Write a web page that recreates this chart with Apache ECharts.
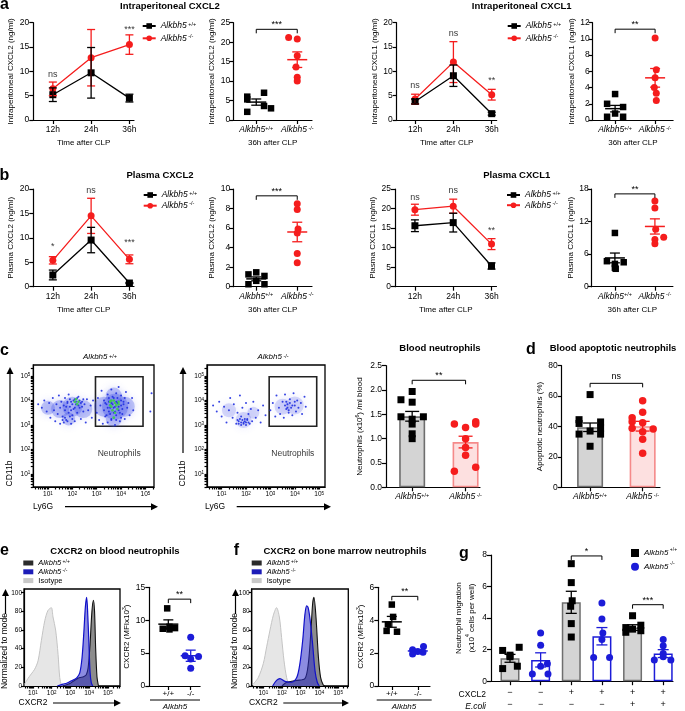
<!DOCTYPE html>
<html><head><meta charset="utf-8">
<script src="https://cdn.jsdelivr.net/npm/echarts@6/dist/echarts.min.js"></script>
<style>html,body{margin:0;padding:0;background:#fff}#c{width:685px;height:711px}</style>
</head><body><div id="c"></div>
<script>
// ================= DATA =================
const timeX = [1, 2, 3];
const timeLabels = ['12h', '24h', '36h'];
const genoX = [1, 2];
const genoLabels = ['{i|Alkbh5}{s|+/+}', '{i|Alkbh5}{s| -/-}'];
const genoShort = ['+/+', '-/-'];

// a: Intraperitoneal CXCL2
const ipC2WtMean = [5.2, 9.7, 4.5], ipC2WtSem = [1.4, 5.2, 0.8];
const ipC2KoMean = [6.4, 12.8, 15.5], ipC2KoSem = [1.4, 5.8, 2.0];
const ipC2Sig = ['ns', 'ns', '***'], ipC2SigY = [9.3, 20.3, 18.7];
const ipC2Wt36 = [7.0, 6.0, 5.3, 3.6, 3.0, 2.1], ipC2Wt36J = [0.19, -0.22, -0.22, 0.19, 0.36, -0.22];
const ipC2Ko36 = [21.2, 20.8, 16.5, 13.6, 11.0, 10.0], ipC2Ko36J = [-0.21, 0, 0, -0.03, 0, 0];
const ipC2Mean36 = [4.6, 15.5], ipC2Sem36 = [0.8, 2.0], ipC2Br = 23.3, ipC2BrLab = '***';

// a: Intraperitoneal CXCL1
const ipC1WtMean = [3.8, 9.1, 1.3], ipC1WtSem = [0.5, 2.2, 0.3];
const ipC1KoMean = [4.3, 11.9, 5.2], ipC1KoSem = [1.0, 4.2, 1.1];
const ipC1Sig = ['ns', 'ns', '**'], ipC1SigY = [7.0, 17.7, 8.2];
const ipC1Wt36 = [3.2, 2.0, 1.6, 0.8, 0.4, 0.4], ipC1Wt36J = [0, -0.2, 0.2, 0, -0.2, 0.2];
const ipC1Ko36 = [10.1, 6.2, 5.2, 4.0, 3.3, 2.4], ipC1Ko36J = [0, 0.03, 0, -0.02, 0.03, 0.03];
const ipC1Mean36 = [1.4, 5.2], ipC1Sem36 = [0.4, 1.15], ipC1Br = 11.2, ipC1BrLab = '**';

// b: Plasma CXCL2
const plC2WtMean = [2.4, 9.55, 0.75], plC2WtSem = [1.0, 2.6, 0.1];
const plC2KoMean = [5.4, 14.5, 5.6], plC2KoSem = [0.75, 3.6, 0.9];
const plC2Sig = ['*', 'ns', '***'], plC2SigY = [8.2, 19.6, 9.1];
const plC2Wt36 = [1.26, 1.47, 1.1, 0.6, 0.25, 0.25], plC2Wt36J = [-0.19, 0, 0.2, 0, -0.19, 0.2];
const plC2Ko36 = [8.5, 7.9, 5.9, 5.5, 3.4, 2.45], plC2Ko36J = [0, 0, 0.02, 0, 0, 0];
const plC2Mean36 = [0.8, 5.6], plC2Sem36 = [0.2, 1.0], plC2Br = 9.3, plC2BrLab = '***';

// b: Plasma CXCL1
const plC1WtMean = [15.6, 16.4, 5.3], plC1WtSem = [1.5, 2.4, 0.8];
const plC1KoMean = [19.7, 20.6, 10.9], plC1KoSem = [1.4, 1.8, 1.4];
const plC1Sig = ['ns', 'ns', '**'], plC1SigY = [22.8, 24.5, 14.5];
const plC1Wt36 = [9.9, 4.7, 4.5, 4.2, 3.5, 3.3], plC1Wt36J = [0, -0.2, 0.22, 0, 0, 0.02];
const plC1Ko36 = [15.8, 14.5, 10.6, 9.1, 8.7, 7.9], plC1Ko36J = [0, 0, 0.02, 0.22, 0, 0];
const plC1Mean36 = [5.3, 11.1], plC1Sem36 = [0.9, 1.4], plC1Br = 17.1, plC1BrLab = '**';

// c: flow cytometry events (log10 Ly6G, log10 CD11b)
const flowWtDots = [[0.6,3.85],[0.75,3.7],[0.85,4.0],[0.95,3.55],[1.05,3.9],[1.1,3.3],[1.2,4.1],[1.25,3.6],[1.3,3.15],[1.35,3.85],[1.4,3.45],[1.45,4.2],[1.5,3.05],[1.5,3.7],[1.55,3.95],[1.6,3.35],[1.65,3.8],[1.7,3.6],[1.7,4.1],[1.75,3.2],[1.8,3.9],[1.85,3.5],[1.85,4.25],[1.9,3.75],[1.95,3.05],[1.95,3.95],[2.0,3.4],[2.05,3.65],[2.1,4.05],[2.1,3.15],[2.15,3.85],[2.2,3.5],[2.25,4.15],[2.3,3.7],[2.35,3.25],[2.4,3.95],[2.45,3.55],[2.5,3.85],[2.55,3.1],[2.6,4.05],[2.65,3.6],[2.75,3.8],[2.8,3.3],[2.85,4.0],
  [1.8,3.95],[1.9,4.05],[2.0,3.85],[2.05,4.0],[2.15,3.95],[2.2,4.1],[2.25,3.8],[2.3,4.0],[2.35,3.9],[2.4,3.75],[1.95,3.6],[2.1,3.7],[2.45,4.05],[1.75,3.75],[1.6,3.2],[1.7,3.3],[1.8,3.15],[1.9,3.35],[2.0,3.25],[1.65,3.1],
  [3.0,3.5],[3.05,4.1],[3.1,3.2],[3.15,3.8],[3.2,4.4],[3.25,3.05],[3.3,3.6],[3.3,4.0],[3.35,3.35],[3.4,3.85],[3.45,4.25],[3.45,3.1],[3.5,3.55],[3.5,3.95],[3.55,3.7],[3.6,4.45],[3.6,3.25],[3.65,3.85],[3.7,3.5],[3.7,4.1],[3.75,3.0],[3.75,3.75],[3.8,4.3],[3.8,3.4],[3.85,3.9],[3.9,3.6],[3.9,4.55],[3.95,3.15],[4.0,3.8],[4.0,4.2],[4.05,3.45],[4.1,3.95],[4.15,3.25],[4.2,4.35],[4.25,3.7],[4.3,3.9],[4.35,3.4],[4.45,4.1],[4.5,3.6],[5.2,3.55],[5.25,4.3],
  [3.35,3.9],[3.45,3.7],[3.5,4.1],[3.55,3.45],[3.6,3.9],[3.65,4.15],[3.7,3.7],[3.75,3.55],[3.8,3.95],[3.85,4.1],[3.9,3.75],[3.95,3.5],[4.0,4.0],[4.05,3.65],[4.1,3.85],[4.15,4.1],[3.4,3.4],[3.6,3.2],[3.8,3.2],[4.0,3.3]];
const flowWtCore = [[2.1,3.95],[2.2,3.85],[2.25,3.95],[2.15,4.05],[3.55,3.8],[3.65,3.6],[3.75,3.9],[3.85,3.65],[3.7,3.3],[3.6,4.0],[3.9,3.85],[3.6,3.75],[3.8,3.8],[3.7,4.0],[3.9,3.95],[3.75,3.5],[3.55,3.95]];
const flowWtBlobs = [[1.0,3.7,14],[1.5,3.65,18],[2.0,3.75,20],[2.45,3.65,18],[1.85,3.25,13],[3.3,3.75,20],[3.75,3.75,26],[4.15,3.75,20],[3.7,4.2,16],[3.7,3.25,16]];
const flowKoDots = [[0.65,3.8],[0.8,3.55],[0.9,3.95],[1.0,3.35],[1.1,3.75],[1.2,3.1],[1.3,3.6],[1.35,4.1],[1.45,3.3],[1.5,3.85],[1.6,3.05],[1.65,3.5],[1.7,3.15],[1.75,4.2],[1.8,3.0],[1.8,3.35],[1.85,3.7],[1.9,3.1],[1.95,3.25],[2.0,3.0],[2.0,3.9],[2.05,3.2],[2.1,3.45],[2.15,3.05],[2.2,3.65],[2.25,3.15],[2.3,3.95],[2.4,3.3],[2.5,3.6],[2.6,3.1],[2.7,3.8],[2.8,3.4],
  [1.7,3.05],[1.8,3.1],[1.85,3.2],[1.9,3.05],[1.95,3.15],[2.0,3.1],[2.05,3.25],[1.75,3.25],[2.1,3.1],[1.65,3.2],
  [3.0,3.6],[3.1,3.9],[3.2,3.35],[3.25,4.2],[3.35,3.7],[3.4,3.45],[3.5,3.95],[3.55,3.3],[3.6,4.25],[3.65,3.65],[3.7,3.85],[3.75,3.5],[3.8,4.05],[3.85,3.7],[3.9,3.4],[3.95,4.3],[4.0,3.8],[4.05,3.55],[4.1,4.0],[4.15,3.7],[4.25,3.9],[4.3,3.45],[4.4,4.15],[4.45,3.75],
  [3.6,3.8],[3.7,3.7],[3.8,3.9],[3.65,3.95],[3.9,3.8],[3.75,3.6],[4.0,3.95]];
const flowKoBlobs = [[1.3,3.6,14],[1.9,3.2,16],[2.3,3.5,12],[3.5,3.75,16],[4.0,3.8,18]];
const flowGate = [[2.95, 2.95], [4.9, 4.97]];
const flowTickExp = [1, 2, 3, 4, 5];

// c: blood neutrophils (x10^6 / ml)
const neutWt = [1.97, 1.8, 1.75, 1.45, 1.45, 1.4, 1.3, 1.1, 1.0], neutWtJ = [0, -0.21, 0, -0.21, 0.21, 0, 0, 0, 0];
const neutKo = [1.35, 1.3, 1.3, 1.23, 1.0, 0.82, 0.66, 0.41, 0.33], neutKoJ = [0.19, -0.21, 0.19, 0, 0, 0, 0, 0.19, -0.21];
const neutMean = [1.46, 0.93], neutSem = [0.1, 0.12], neutBr = 2.2, neutBrLab = '**';

// d: apoptotic neutrophils (%)
const apoWt = [61, 44.5, 42, 35, 43, 39, 35, 37, 27], apoWtJ = [0, -0.21, -0.21, -0.21, 0.2, 0.2, 0.2, 0, 0];
const apoKo = [57, 49.3, 45.8, 43.2, 38.8, 42.5, 38.4, 36.6, 31.6, 22.4], apoKoJ = [0, 0, -0.2, -0.2, -0.2, 0, 0.2, 0, 0, 0];
const apoMean = [39.5, 40.2], apoSem = [2.8, 3.2], apoBr = 68.4, apoBrLab = 'ns';

// e: CXCR2 histograms, blood (log10 CXCR2, % of mode)
const histIsoE = [[0.55,2],[0.73,8],[0.91,13],[1.09,18],[1.27,27],[1.45,49],[1.63,70],[1.8,81],[1.98,84],[2.07,74],[2.21,60],[2.34,34],[2.43,9],[2.52,1],[2.6,0]];
const histKoE = [[2.3,0],[2.6,2],[2.8,3],[3.0,5],[3.2,7],[3.35,9],[3.5,14],[3.62,30],[3.72,58],[3.8,85],[3.87,95],[3.93,75],[3.99,45],[4.05,15],[4.12,3],[4.2,0]];
const histWtE = [[2.6,0],[3.0,3],[3.3,7],[3.5,9],[3.7,10],[3.85,12],[3.95,20],[4.05,45],[4.15,80],[4.23,92],[4.29,80],[4.35,40],[4.42,10],[4.5,0]];
const cxBlWt = [11.8, 9.0, 8.8, 8.7, 8.6], cxBlWtJ = [-0.05, 0.05, 0.3, -0.25, 0.05];
const cxBlKo = [7.4, 4.6, 4.5, 4.1, 2.7], cxBlKoJ = [0, -0.25, 0.35, 0, 0];
const cxBlMean = [9.4, 4.6], cxBlSem = [0.65, 0.85], cxBlBr = 13.2, cxBlBrLab = '**';

// f: CXCR2 histograms, bone marrow
const histIsoF = [[0.46,2],[0.73,9],[1.0,24],[1.18,42],[1.36,60],[1.54,76],[1.71,84],[1.86,74],[1.98,52],[2.11,27],[2.25,9],[2.39,1],[2.5,0]];
const histKoF = [[1.5,0],[1.71,6],[1.89,8],[2.16,5],[2.52,4],[2.79,9],[2.96,24],[3.11,49],[3.23,77],[3.32,86],[3.4,84],[3.5,72],[3.64,45],[3.77,16],[3.89,4],[4.0,0]];
const histWtF = [[2.0,0],[2.25,4],[2.79,6],[3.23,8],[3.41,24],[3.54,56],[3.64,88],[3.71,95],[3.82,74],[3.95,31],[4.07,9],[4.21,1],[4.3,0]];
const cxBmWt = [4.95, 4.2, 3.75, 3.35, 3.3], cxBmWtJ = [0, 0.05, -0.15, -0.2, 0.2];
const cxBmKo = [2.4, 2.2, 2.1, 2.05, 1.95], cxBmKoJ = [0.22, -0.2, 0, 0.2, -0.2];
const cxBmMean = [3.9, 2.13], cxBmSem = [0.33, 0.08], cxBmBr = 5.45, cxBmBrLab = '**';
const histTicksY = [0, 20, 40, 60, 80, 100];

// g: neutrophil migration (x10^4 cells per well)
const migX = [1, 2, 3, 4, 5, 6];
const migGeno = ['wt', 'ko', 'wt', 'ko', 'wt', 'ko'];
const migMean = [1.45, 1.35, 5.0, 2.85, 3.4, 1.75];
const migSem = [0.25, 0.45, 0.7, 0.55, 0.18, 0.25];
const migPts = [
  [2.15, 1.95, 1.65, 1.55, 0.95, 0.8],
  [3.05, 2.28, 1.1, 0.95, 0.45, 0.45],
  [7.45, 6.25, 5.1, 4.75, 3.65, 2.8],
  [4.95, 3.95, 3.05, 2.65, 1.5, 1.5],
  [4.15, 3.55, 3.4, 3.3, 3.2, 3.1],
  [2.65, 2.25, 1.75, 1.55, 1.35, 1.35]];
const migJit = [
  [0.3, -0.24, 0, 0, 0.24, -0.24],
  [0, 0, 0.22, 0, -0.27, 0.24],
  [0, 0, 0.03, -0.02, 0, 0],
  [0, 0, 0.03, 0, -0.27, 0.25],
  [0, 0.27, -0.22, 0, 0.27, -0.22],
  [0, 0, 0, 0, -0.29, 0.25]];
const migCxcl2Row = ['−', '−', '+', '+', '+', '+'];
const migEcoliRow = ['−', '−', '−', '−', '+', '+'];
const migBrackets = [[3, 4, 7.94, '*'], [5, 6, 4.85, '***']];

// ================= STYLE / HELPERS =================
const F = '"Liberation Sans", Arial, Helvetica, sans-serif';
const RED = '#f51d1d', BLUE = '#1c1cd8';
const AX = { color: '#000', width: 1.2 };
const grid = [], xAxis = [], yAxis = [], series = [], legend = [], graphic = [];
const richTick = {
  i: { fontStyle: 'italic', fontSize: 8.5, fontFamily: F, color: '#000' },
  s: { fontSize: 5.5, fontFamily: F, color: '#000', verticalAlign: 'top' },
  b: { fontSize: 6.5, fontFamily: F, color: '#000' },
  e: { fontSize: 4.5, fontFamily: F, color: '#000', verticalAlign: 'top' }
};
const richName = {
  n: { fontSize: 8, fontFamily: F, color: '#000' },
  s: { fontSize: 5, fontFamily: F, color: '#000', verticalAlign: 'top' }
};

function yVal(o) {
  return {
    type: 'value', min: o.min, max: o.max, interval: o.interval,
    axisLine: { show: true, onZero: false, lineStyle: AX },
    axisTick: { show: true, length: o.tl || 4, lineStyle: AX, customValues: o.ticks },
    axisLabel: { color: '#000', fontSize: o.fs || 8.5, fontFamily: F, margin: o.margin || 4, formatter: o.fmt, customValues: o.labelTicks || o.ticks, rich: richTick },
    splitLine: { show: false }, name: o.name || '', nameLocation: 'middle', nameGap: o.nameGap || 14,
    nameTextStyle: { color: '#000', fontSize: 8, fontFamily: F, rich: richName, lineHeight: o.nlh || 10 }
  };
}
function xVal(o) {
  return {
    type: 'value', min: o.min, max: o.max,
    axisLine: { show: true, onZero: false, lineStyle: AX },
    axisTick: { show: true, length: o.tl || 4, lineStyle: AX, customValues: o.ticks },
    axisLabel: {
      color: '#000', fontSize: o.fs || 8.5, fontFamily: F, margin: o.margin || 5,
      customValues: o.labelTicks || o.ticks, lineHeight: o.lh,
      formatter: o.fmt || ((v) => { const i = o.ticks.findIndex(t => Math.abs(t - v) < 1e-6); return i >= 0 ? o.labels[i] : ''; }),
      rich: richTick
    },
    splitLine: { show: false }, name: o.name || '', nameLocation: 'middle', nameGap: o.nameGap || 20,
    nameTextStyle: { color: '#000', fontSize: 8, fontFamily: F }
  };
}
function addGrid(l, t, w, h, xa, ya, extra) {
  const i = grid.length;
  grid.push(Object.assign({ left: l, top: t, width: w, height: h, containLabel: false }, extra || {}));
  xa.gridIndex = i; ya.gridIndex = i; xAxis.push(xa); yAxis.push(ya);
  return i;
}
function lineS(gi, name, xs, ys, color, symbol) {
  return { type: 'line', name, xAxisIndex: gi, yAxisIndex: gi, data: xs.map((x, i) => [x, ys[i]]),
    symbol, symbolSize: 7, itemStyle: { color }, lineStyle: { color, width: 1.3 }, z: 5 };
}
function errBars(gi, xs, means, sems, color, cap, meanW) {
  return {
    type: 'custom', xAxisIndex: gi, yAxisIndex: gi, silent: true, z: 6,
    encode: { x: 0, y: 1 },
    data: xs.map((x, i) => [x, means[i], sems[i]]),
    renderItem: (p, api) => {
      const x = api.value(0), m = api.value(1), s = api.value(2);
      const a = api.coord([x, m + s]), b = api.coord([x, m - s]), c = api.coord([x, m]);
      const st = { stroke: color, lineWidth: 1.3 };
      const ch = [
        { type: 'line', shape: { x1: a[0], y1: a[1], x2: b[0], y2: b[1] }, style: st },
        { type: 'line', shape: { x1: a[0] - cap / 2, y1: a[1], x2: a[0] + cap / 2, y2: a[1] }, style: st },
        { type: 'line', shape: { x1: b[0] - cap / 2, y1: b[1], x2: b[0] + cap / 2, y2: b[1] }, style: st }];
      if (meanW) ch.push({ type: 'line', shape: { x1: c[0] - meanW / 2, y1: c[1], x2: c[0] + meanW / 2, y2: c[1] }, style: { stroke: color, lineWidth: 1.5 } });
      return { type: 'group', children: ch };
    }
  };
}
function dots(gi, center, vals, jit, color, symbol, size) {
  return { type: 'scatter', xAxisIndex: gi, yAxisIndex: gi, data: vals.map((v, i) => [center + jit[i], v]),
    symbol, symbolSize: size || 7, itemStyle: { color, opacity: 1 }, z: 5 };
}
function tstyle(text, font, align, valign, fill) {
  return { text, font, fill: fill || '#000', textFill: fill || '#000', align, textAlign: align, verticalAlign: valign, textVerticalAlign: valign };
}
function bracket(gi, x1, x2, y, label, drop) {
  return {
    type: 'custom', xAxisIndex: gi, yAxisIndex: gi, silent: true, z: 6,
    encode: { x: [0, 1], y: 2 },
    data: [[x1, x2, y]],
    renderItem: (p, api) => {
      const a = api.coord([api.value(0), api.value(2)]), b = api.coord([api.value(1), api.value(2)]);
      const t = tstyle(label, '9px ' + F, 'center', 'bottom');
      t.x = (a[0] + b[0]) / 2; t.y = a[1] - (label === 'ns' ? 2 : 0);
      return { type: 'group', children: [
        { type: 'polyline', shape: { points: [[a[0], a[1] + drop], [a[0], a[1]], [b[0], b[1]], [b[0], b[1] + drop]] }, style: { stroke: '#000', fill: null, lineWidth: 1 } },
        { type: 'text', style: t }] };
    }
  };
}
function sigText(gi, xs, ys, labels) {
  return { type: 'scatter', xAxisIndex: gi, yAxisIndex: gi, data: xs.map((x, i) => [x, ys[i]]), symbolSize: 1, silent: true,
    itemStyle: { color: 'rgba(0,0,0,0)' }, z: 7,
    label: { show: true, position: 'inside', formatter: (p) => labels[p.dataIndex], color: '#000', fontSize: 9, fontFamily: F } };
}
function txt(x, y, text, font, opt) {
  opt = opt || {};
  const st = tstyle(text, font, opt.align || 'center', 'middle', opt.fill);
  if (opt.rich) st.rich = opt.rich;
  return { type: 'text', x, y, rotation: opt.rot || 0, style: st, silent: true, z: 10 };
}
function arrow(x1, y1, x2, y2) {
  const dx = x2 - x1, dy = y2 - y1, L = Math.hypot(dx, dy), ux = dx / L, uy = dy / L;
  const hl = 7, hw = 3.5;
  const bx = x2 - ux * hl, by = y2 - uy * hl;
  return [
    { type: 'line', shape: { x1, y1, x2: bx, y2: by }, style: { stroke: '#000', lineWidth: 1.2 }, silent: true },
    { type: 'polygon', shape: { points: [[x2, y2], [bx - uy * hw, by + ux * hw], [bx + uy * hw, by - ux * hw]] }, style: { fill: '#000' }, silent: true }];
}
const richGeo = {
  i: { fontStyle: 'italic', fontSize: 8, fontFamily: F, fill: '#000' },
  s: { fontSize: 5.5, fontFamily: F, fill: '#000', verticalAlign: 'top' }
};

// ================= LINE CHARTS (a, b) =================
function lineChart(l, t, w, h, xmin, xmax, ymax, yint, yname, nameGap, wtM, wtS, koM, koS, sig, sigY) {
  const gi = addGrid(l, t, w, h,
    xVal({ min: xmin, max: xmax, ticks: timeX, labels: timeLabels, name: 'Time after CLP', nameGap: 19 }),
    yVal({ min: 0, max: ymax, interval: yint, name: yname, nameGap }));
  series.push(errBars(gi, timeX, koM, koS, RED, 8));
  series.push(errBars(gi, timeX, wtM, wtS, '#000', 8));
  series.push(lineS(gi, 'lineKO', timeX, koM, RED, 'circle'));
  series.push(lineS(gi, 'lineWT', timeX, wtM, '#000', 'rect'));
  series.push(sigText(gi, timeX, sigY, sig));
  return gi;
}
function dotChart(l, t, w, h, xmin, xmax, ymax, yint, yname, nameGap, wt, wtJ, ko, koJ, mean, sem, brY, brLab) {
  const gi = addGrid(l, t, w, h,
    xVal({ min: xmin, max: xmax, ticks: genoX, labels: genoLabels, name: '36h after CLP', nameGap: 19 }),
    yVal({ min: 0, max: ymax, interval: yint, name: yname, nameGap, margin: 3 }));
  series.push(dots(gi, 1, wt, wtJ, '#000', 'rect', 6.5));
  series.push(dots(gi, 2, ko, koJ, RED, 'circle', 7));
  series.push(errBars(gi, [1], [mean[0]], [sem[0]], '#000', 10, 20));
  series.push(errBars(gi, [2], [mean[1]], [sem[1]], RED, 10, 20));
  series.push(bracket(gi, 1, 2, brY, brLab, 4));
  return gi;
}
function lineLegend(left, top, gap) {
  legend.push({ left, top, orient: 'vertical', itemWidth: 13, itemHeight: 7, itemGap: gap, padding: 0, selectedMode: false,
    data: ['lineWT', 'lineKO'],
    formatter: (n) => n === 'lineWT' ? '{i|Alkbh5}{s| +/+}' : '{i|Alkbh5}{s| -/-}',
    textStyle: { lineHeight: 10, rich: { i: { fontStyle: 'italic', fontSize: 8.5, fontFamily: F, color: '#000' }, s: { fontSize: 5.5, fontFamily: F, color: '#000', verticalAlign: 'top' } } } });
}

lineChart(33.3, 22.7, 100.7, 97.3, 0.49, 3.12, 20, 5, 'Intraperitoneal CXCL2 (ng/ml)', 14, ipC2WtMean, ipC2WtSem, ipC2KoMean, ipC2KoSem, ipC2Sig, ipC2SigY);
dotChart(233.3, 22.7, 78.7, 97.3, 0.44, 2.36, 25, 5, 'Intraperitoneal CXCL2 (ng/ml)', 11, ipC2Wt36, ipC2Wt36J, ipC2Ko36, ipC2Ko36J, ipC2Mean36, ipC2Sem36, ipC2Br, ipC2BrLab);
lineChart(396.7, 22.7, 100, 97.3, 0.52, 3.13, 20, 5, 'Intraperitoneal CXCL1 (ng/ml)', 14, ipC1WtMean, ipC1WtSem, ipC1KoMean, ipC1KoSem, ipC1Sig, ipC1SigY);
dotChart(592.7, 22.7, 80.4, 97.3, 0.44, 2.45, 12, 2, 'Intraperitoneal CXCL1 (ng/ml)', 11, ipC1Wt36, ipC1Wt36J, ipC1Ko36, ipC1Ko36J, ipC1Mean36, ipC1Sem36, ipC1Br, ipC1BrLab);
lineChart(33.3, 189, 100.7, 97.7, 0.49, 3.12, 20, 5, 'Plasma CXCL2 (ng/ml)', 14, plC2WtMean, plC2WtSem, plC2KoMean, plC2KoSem, plC2Sig, plC2SigY);
dotChart(233.3, 189, 78.7, 97.7, 0.44, 2.36, 10, 2, 'Plasma CXCL2 (ng/ml)', 11, plC2Wt36, plC2Wt36J, plC2Ko36, plC2Ko36J, plC2Mean36, plC2Sem36, plC2Br, plC2BrLab);
lineChart(395, 189, 101.5, 97.7, 0.48, 3.13, 25, 5, 'Plasma CXCL1 (ng/ml)', 14, plC1WtMean, plC1WtSem, plC1KoMean, plC1KoSem, plC1Sig, plC1SigY);
dotChart(591.7, 189, 81.2, 97.7, 0.42, 2.45, 18, 6, 'Plasma CXCL1 (ng/ml)', 11, plC1Wt36, plC1Wt36J, plC1Ko36, plC1Ko36J, plC1Mean36, plC1Sem36, plC1Br, plC1BrLab);
lineLegend(141.7, 21, 2.3);
lineLegend(506.7, 21, 2.3);
lineLegend(142.7, 190, 0.7);
lineLegend(506, 190, 0.2);

// ================= FLOW (c) =================
function flowPlot(l, w, xmax, pts, core, blobs, blobAlpha) {
  const minor = [];
  [0, 1, 2, 3, 4, 5].forEach(d => [2, 3, 4, 5, 6, 7, 8, 9].forEach(k => minor.push(d + Math.log10(k))));
  const ticksX = flowTickExp.concat(minor.filter(v => v > 0.4 && v < xmax));
  const ticksY = flowTickExp.concat(minor.filter(v => v > 0.47 && v < 5.45));
  const fmt = (v) => { const r = Math.round(v); return Math.abs(v - r) < 1e-6 ? '{b|10}{e|' + r + '}' : ''; };
  const gi = addGrid(l, 365, w, 122,
    xVal({ min: 0.4, max: xmax, ticks: ticksX, labelTicks: flowTickExp, fmt, tl: 2.5, margin: 4 }),
    yVal({ min: 0.47, max: 5.45, ticks: ticksY, labelTicks: flowTickExp, fmt, tl: 2.5, margin: 3 }),
    { show: true, borderColor: '#000', borderWidth: 1.3, backgroundColor: '#fff' });
  series.push({ type: 'scatter', xAxisIndex: gi, yAxisIndex: gi, data: blobs, symbolSize: (v) => v[2], silent: true,
    itemStyle: { color: 'rgba(60,75,230,' + blobAlpha + ')', shadowBlur: 9, shadowColor: 'rgba(70,80,235,0.6)' }, z: 2 });
  series.push({ type: 'scatter', xAxisIndex: gi, yAxisIndex: gi, data: pts, symbolSize: 2, silent: true,
    itemStyle: { color: '#2030e0', opacity: 0.9 }, z: 3 });
  if (core) series.push({ type: 'scatter', xAxisIndex: gi, yAxisIndex: gi, data: core, symbolSize: 2.6, silent: true,
    itemStyle: { color: '#3ecb4e', opacity: 0.95 }, z: 4 });
  series.push({ type: 'scatter', xAxisIndex: gi, yAxisIndex: gi, data: [[3.92, 1.84]], symbolSize: 1, silent: true,
    itemStyle: { color: 'rgba(0,0,0,0)' }, z: 5,
    label: { show: true, position: 'inside', formatter: 'Neutrophils', color: '#000', fontSize: 8.5, fontFamily: F },
    markArea: { silent: true, itemStyle: { color: 'rgba(0,0,0,0)', borderColor: '#222', borderWidth: 1.6 },
      data: [[{ coord: flowGate[0] }, { coord: flowGate[1] }]] } });
}
flowPlot(33.3, 120.7, 5.35, flowWtDots, flowWtCore, flowWtBlobs, 0.36);
flowPlot(207, 118, 5.24, flowKoDots, null, flowKoBlobs, 0.24);

// ================= BARS (c, d) =================
function barChart(l, w, xmin, xmax, ymax, yint, yname, nameGap, fmt, wt, wtJ, ko, koJ, mean, sem, brY, brLab) {
  const gi = addGrid(l, 365.7, w, 121.6,
    xVal({ min: xmin, max: xmax, ticks: genoX, labels: genoLabels, margin: 5 }),
    yVal({ min: 0, max: ymax, interval: yint, name: yname, nameGap, fmt }));
  series.push({ type: 'bar', xAxisIndex: gi, yAxisIndex: gi, barWidth: 26, z: 2,
    data: [{ value: [1, mean[0]], itemStyle: { color: '#d4d4d4', borderColor: '#6e6e6e', borderWidth: 1.6 } },
           { value: [2, mean[1]], itemStyle: { color: '#fde0e0', borderColor: '#f58a8a', borderWidth: 1.6 } }] });
  series.push(errBars(gi, [1], [mean[0]], [sem[0]], '#000', 14, 0));
  series.push(errBars(gi, [2], [mean[1]], [sem[1]], RED, 14, 0));
  series.push(dots(gi, 1, wt, wtJ, '#000', 'rect', 7));
  series.push(dots(gi, 2, ko, koJ, RED, 'circle', 7.5));
  series.push(bracket(gi, 1, 2, brY, brLab, 4));
}
barChart(386, 94, 0.51, 2.27, 2.5, 0.5, '{n|Neutrophils (x10}{s|6}{n|) /ml blood}', 21, (v) => v.toFixed(1), neutWt, neutWtJ, neutKo, neutKoJ, neutMean, neutSem, neutBr, neutBrLab);
barChart(561.7, 98.3, 0.46, 2.33, 80, 20, 'Apoptotic neutrophils (%)', 16, undefined, apoWt, apoWtJ, apoKo, apoKoJ, apoMean, apoSem, apoBr, apoBrLab);

// ================= HISTOGRAMS + DOTS (e, f) =================
function histPlot(l, w, xmin, xmax, iso, ko, wt) {
  const fmt = (v) => { const r = Math.round(v); return Math.abs(v - r) < 1e-6 ? '{b|10}{e|' + r + '}' : ''; };
  const minor = [];
  [0, 1, 2, 3, 4, 5].forEach(d => [2, 3, 4, 5, 6, 7, 8, 9].forEach(k => minor.push(d + Math.log10(k))));
  const gi = addGrid(l, 589, w, 97,
    xVal({ min: xmin, max: xmax, ticks: flowTickExp.concat(minor.filter(v => v > xmin && v < xmax)), labelTicks: flowTickExp, fmt, tl: 2.5, margin: 4 }),
    yVal({ min: 0, max: 104, ticks: histTicksY, fmt: (v) => String(v), fs: 6.5, tl: 3, margin: 2 }),
    { show: true, borderColor: '#000', borderWidth: 1.3, backgroundColor: '#fff' });
  series.push({ type: 'line', name: 'histIso', xAxisIndex: gi, yAxisIndex: gi, data: iso, smooth: 0.3, symbol: 'none',
    lineStyle: { color: '#c4c4c4', width: 1 }, areaStyle: { color: '#e6e6e6', opacity: 1 }, itemStyle: { color: '#c8c8c8' }, z: 2 });
  series.push({ type: 'line', name: 'histWT', xAxisIndex: gi, yAxisIndex: gi, data: wt, smooth: 0.3, symbol: 'none',
    lineStyle: { color: '#111', width: 1.1 }, areaStyle: { color: '#8c8c8c', opacity: 1 }, itemStyle: { color: '#2b2b2b' }, z: 3 });
  series.push({ type: 'line', name: 'histKO', xAxisIndex: gi, yAxisIndex: gi, data: ko, smooth: 0.3, symbol: 'none',
    lineStyle: { color: '#1010c8', width: 1.2 }, areaStyle: { color: 'rgba(45,45,200,0.55)', opacity: 1 }, itemStyle: { color: '#1c1cb8' }, z: 4 });
  return gi;
}
histPlot(24, 96, 0.52, 5.65, histIsoE, histKoE, histWtE);
histPlot(251.7, 96.6, 0.38, 5.55, histIsoF, histKoF, histWtF);

function cxDot(l, w, xmin, xmax, ymax, yint, nameGap, wt, wtJ, ko, koJ, mean, sem, brY, brLab) {
  const gi = addGrid(l, 587.3, w, 98.7,
    xVal({ min: xmin, max: xmax, ticks: genoX, labels: genoShort, fs: 8, margin: 4 }),
    yVal({ min: 0, max: ymax, interval: yint, name: '{n|CXCR2 (MFIx10}{s|3}{n|)}', nameGap, margin: 4 }));
  series.push(dots(gi, 1, wt, wtJ, '#000', 'rect', 6.5));
  series.push(dots(gi, 2, ko, koJ, BLUE, 'circle', 7));
  series.push(errBars(gi, [1], [mean[0]], [sem[0]], '#000', 10, 20));
  series.push(errBars(gi, [2], [mean[1]], [sem[1]], BLUE, 10, 20));
  series.push(bracket(gi, 1, 2, brY, brLab, 4));
}
cxDot(149.3, 50.8, 0.15, 2.42, 15, 5, 10, cxBlWt, cxBlWtJ, cxBlKo, cxBlKoJ, cxBlMean, cxBlSem, cxBlBr, cxBlBrLab);
cxDot(378.3, 51.7, 0.48, 2.47, 6, 2, 10, cxBmWt, cxBmWtJ, cxBmKo, cxBmKoJ, cxBmMean, cxBmSem, cxBmBr, cxBmBrLab);

function histLegend(left) {
  legend.push({ left, top: 559, orient: 'vertical', itemWidth: 10, itemHeight: 5, itemGap: 0.8, padding: 0, selectedMode: false, icon: 'rect',
    data: ['histWT', 'histKO', 'histIso'],
    formatter: (n) => n === 'histWT' ? '{i|Alkbh5}{s| +/+}' : (n === 'histKO' ? '{i|Alkbh5}{s| -/-}' : '{n|Isotype}'),
    textStyle: { lineHeight: 8, rich: { i: { fontStyle: 'italic', fontSize: 7.5, fontFamily: F, color: '#000' }, n: { fontSize: 7.5, fontFamily: F, color: '#000' }, s: { fontSize: 5, fontFamily: F, color: '#000', verticalAlign: 'top' } } } });
}
histLegend(23.3);
histLegend(251.7);

// ================= MIGRATION (g) =================
(function () {
  const gi = addGrid(491, 555, 182, 129.3,
    xVal({ min: 0.38, max: 6.32, ticks: migX, labels: migX.map((x, i) => migCxcl2Row[i] + '\n' + migEcoliRow[i]), fs: 9, margin: 5, lh: 12.4 }),
    yVal({ min: 0, max: 8, interval: 2, name: 'Neutrophil migration\n{n|(x10}{s|4}{n| cells per well)}', nameGap: 11, nlh: 13 }));
  series.push({ type: 'bar', xAxisIndex: gi, yAxisIndex: gi, barWidth: 19, z: 2,
    data: migX.map((x, i) => ({ value: [x, migMean[i]], itemStyle: migGeno[i] === 'wt'
      ? { color: '#d4d4d4', borderColor: '#6e6e6e', borderWidth: 1.5 }
      : { color: '#ffffff', borderColor: BLUE, borderWidth: 1.5 } })) });
  migX.forEach((x, i) => {
    const c = migGeno[i] === 'wt' ? '#000' : BLUE;
    series.push(errBars(gi, [x], [migMean[i]], [migSem[i]], c, 11, 0));
    series.push(Object.assign(dots(gi, x, migPts[i], migJit[i], c, migGeno[i] === 'wt' ? 'rect' : 'circle', 7),
      { name: migGeno[i] === 'wt' ? 'gWT' : 'gKO' }));
  });
  migBrackets.forEach(b => series.push(bracket(gi, b[0], b[1], b[2], b[3], 4)));
})();
legend.push({ left: 631, top: 547.5, orient: 'vertical', itemWidth: 8, itemHeight: 8, itemGap: 2.7, padding: 0, selectedMode: false,
  data: ['gWT', 'gKO'],
  formatter: (n) => n === 'gWT' ? '{i|Alkbh5}{s| +/+}' : '{i|Alkbh5}{s| -/-}',
  textStyle: { lineHeight: 11, rich: { i: { fontStyle: 'italic', fontSize: 8, fontFamily: F, color: '#000' }, s: { fontSize: 5, fontFamily: F, color: '#000', verticalAlign: 'top' } } } });

// ================= TEXT / DECORATION =================
const BL = 'bold 16px ' + F, BT = 'bold 9.5px ' + F, N8 = '8.5px ' + F;
graphic.push(
  txt(4.5, 4.5, 'a', BL), txt(4.5, 176, 'b', BL), txt(4.5, 350.5, 'c', BL), txt(531, 349.5, 'd', BL),
  txt(4.5, 551, 'e', BL), txt(236.5, 550.5, 'f', BL), txt(464, 553.5, 'g', BL),
  txt(170, 6, 'Intraperitoneal CXCL2', BT), txt(521.7, 6, 'Intraperitoneal CXCL1', BT),
  txt(160, 175, 'Plasma CXCL2', BT), txt(516.7, 175, 'Plasma CXCL1', BT),
  txt(440, 348, 'Blood neutrophils', BT), txt(613, 348, 'Blood apoptotic neutrophils', BT),
  txt(115, 551, 'CXCR2 on blood neutrophils', BT), txt(345, 551, 'CXCR2 on bone marrow neutrophils', BT),
  txt(100, 357, '{i|Alkbh5}{s| +/+}', N8, { rich: richGeo }), txt(273, 357, '{i|Alkbh5}{s| -/-}', N8, { rich: richGeo }),
  txt(10, 473.5, 'CD11b', N8, { rot: Math.PI / 2 }), txt(183, 473.5, 'CD11b', N8, { rot: Math.PI / 2 }),
  txt(43, 506.7, 'Ly6G', N8), txt(215, 506.7, 'Ly6G', N8),
  txt(5, 651, 'Normalized to mode', N8, { rot: Math.PI / 2 }), txt(235, 651, 'Normalized to mode', N8, { rot: Math.PI / 2 }),
  txt(33, 703, 'CXCR2', N8), txt(263.3, 703, 'CXCR2', N8),
  txt(175, 707, 'Alkbh5', 'italic 8px ' + F), txt(404, 707, 'Alkbh5', 'italic 8px ' + F),
  txt(486, 694.3, 'CXCL2', N8, { align: 'right' }), txt(486, 706.7, 'E.coli', 'italic 8.5px ' + F, { align: 'right' }),
  { type: 'line', shape: { x1: 150, y1: 700, x2: 200, y2: 700 }, style: { stroke: '#000', lineWidth: 1 }, silent: true },
  { type: 'line', shape: { x1: 376.7, y1: 700, x2: 431.7, y2: 700 }, style: { stroke: '#000', lineWidth: 1 }, silent: true },
  ...arrow(10, 453, 10, 367), ...arrow(183, 453, 183, 367),
  ...arrow(65, 506.7, 158, 506.7), ...arrow(236.7, 506.7, 331, 506.7),
  ...arrow(5.5, 614, 5.5, 589), ...arrow(235.5, 614, 235.5, 589),
  ...arrow(53, 703, 121, 703), ...arrow(283.3, 703, 349, 703)
);

const chart = echarts.init(document.getElementById('c'), null, { renderer: 'canvas' });
chart.setOption({ animation: false, backgroundColor: '#fff', textStyle: { fontFamily: F },
  grid, xAxis, yAxis, series, legend, graphic });
</script></body></html>
